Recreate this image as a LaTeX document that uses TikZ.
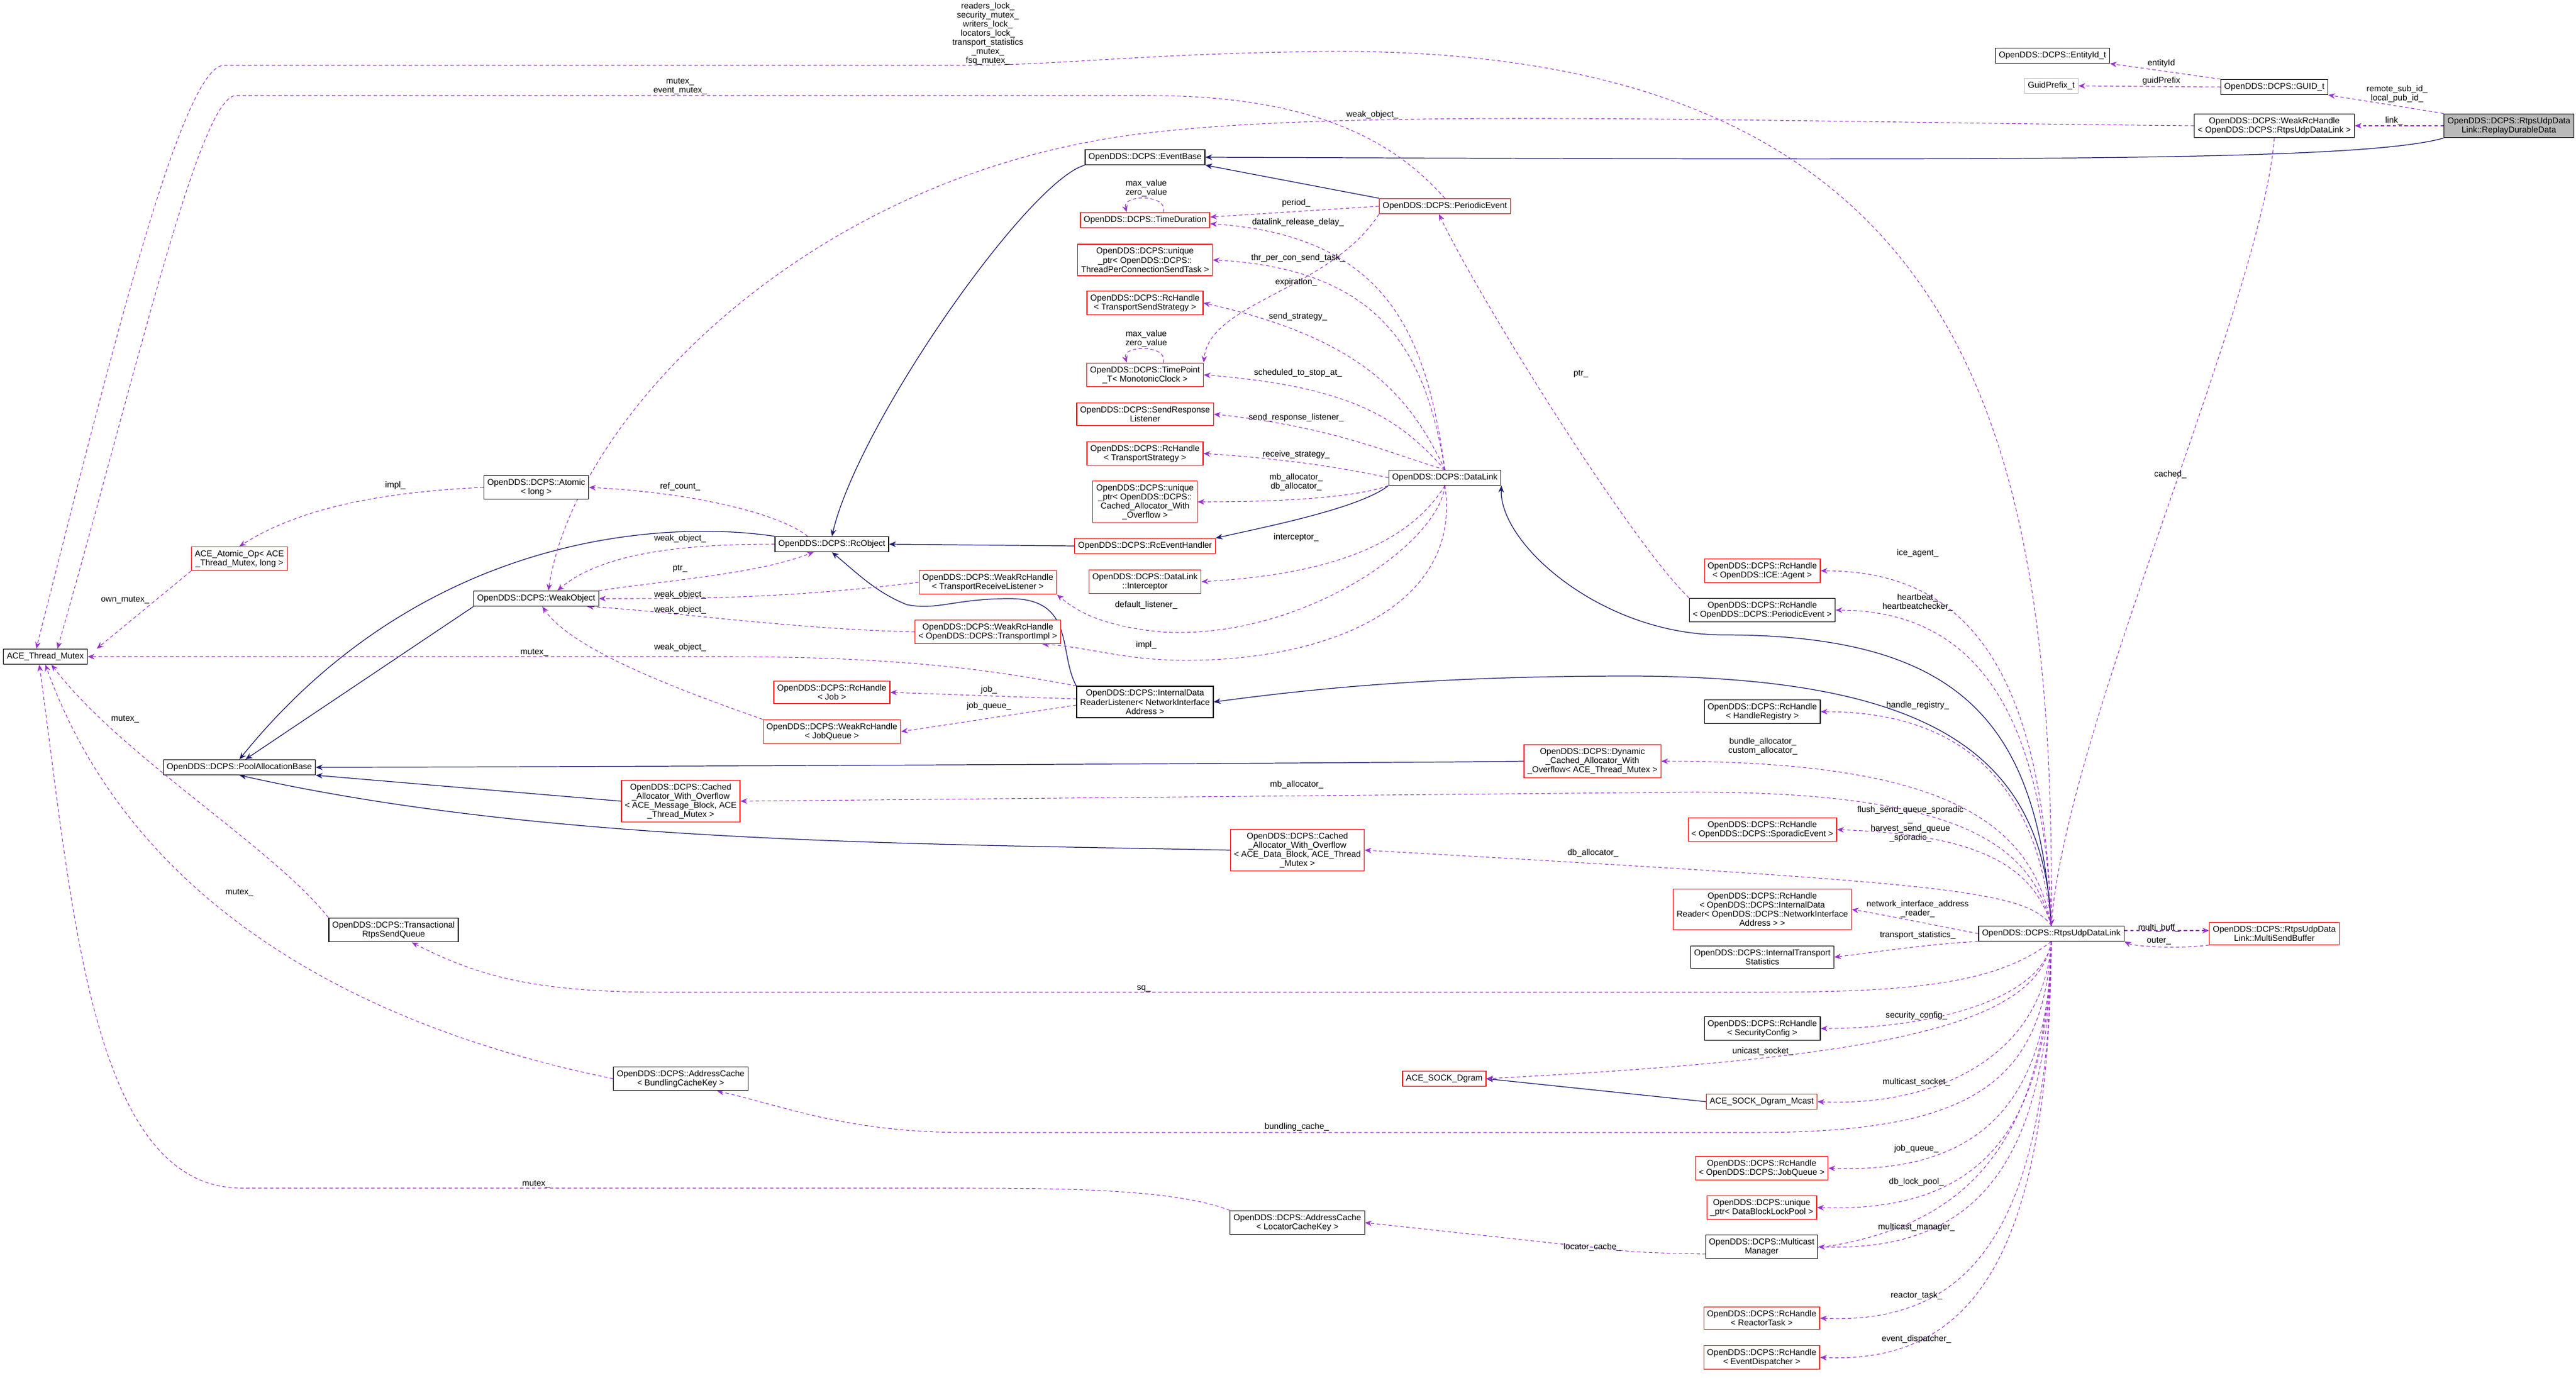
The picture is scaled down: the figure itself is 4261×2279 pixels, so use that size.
\documentclass[tikz,border=0pt]{standalone}
\usepackage{fontspec}
\setmainfont{Liberation Sans}
\usetikzlibrary{arrows.meta}

\definecolor{edgeblue}{RGB}{25,25,112}
\definecolor{edgepurple}{RGB}{154,50,205}
\newcommand{\classfont}{\fontsize{4}{4.3}\selectfont}
\pgfdeclarelayer{background}
\pgfsetlayers{background,main}

\tikzset{
  cls/.style={draw=black, fill=white, font=\classfont, align=center, inner sep=1.6pt, minimum height=0.25cm, line width=0.35pt},
  trunc/.style={cls, draw=red},
  ext/.style={cls, draw=gray!50},
  cur/.style={cls, fill=gray!55},
  member/.style={draw=edgepurple, dash pattern=on 1.6pt off 1.2pt, line width=0.3pt, -{Stealth[length=3.2pt,width=2.6pt]}},
  inherit/.style={draw=edgeblue, line width=0.35pt, -{Stealth[length=3.2pt,width=2.6pt]}},
  lbl/.style={font=\classfont, align=center, inner sep=0pt}
}

\begin{document}
\begin{tikzpicture}[x=0.01cm, y=-0.01cm]
	
	% 画布范围
	\useasboundingbox (0,0) rectangle (4261,2279);
	
	% 右上角的类
	\node[cur] (replay) at (4150,208) {OpenDDS::DCPS::RtpsUdpData\\Link::ReplayDurableData};
	\node[cls] (guid) at (3762,144) {OpenDDS::DCPS::GUID\_t};
	\node[cls] (entity) at (3395,92) {OpenDDS::DCPS::EntityId\_t};
	\node[ext] (gprefix) at (3393,142) {GuidPrefix\_t};
	\node[cls] (weakrudl) at (3762,208) {OpenDDS::DCPS::WeakRcHandle\\< OpenDDS::DCPS::RtpsUdpDataLink >};
	
	% 中间一列
	\node[cls] (eventbase) at (1894,260) {OpenDDS::DCPS::EventBase};
	\node[trunc] (timedur) at (1894,364) {OpenDDS::DCPS::TimeDuration};
	\node[trunc] (tpcst) at (1894,430) {OpenDDS::DCPS::unique\\\_ptr< OpenDDS::DCPS::\\ThreadPerConnectionSendTask >};
	\node[trunc] (sendstrat) at (1894,501) {OpenDDS::DCPS::RcHandle\\< TransportSendStrategy >};
	\node[trunc] (timepoint) at (1894,620) {OpenDDS::DCPS::TimePoint\\\_T< MonotonicClock >};
	\node[trunc] (sendresp) at (1894,685) {OpenDDS::DCPS::SendResponse\\Listener};
	\node[trunc] (tstrat) at (1894,750) {OpenDDS::DCPS::RcHandle\\< TransportStrategy >};
	\node[trunc] (cachedptr) at (1894,830) {OpenDDS::DCPS::unique\\\_ptr< OpenDDS::DCPS::\\Cached\_Allocator\_With\\\_Overflow >};
	\node[trunc] (rceh) at (1894,903) {OpenDDS::DCPS::RcEventHandler};
	\node[trunc] (interceptor) at (1894,962) {OpenDDS::DCPS::DataLink\\::Interceptor};
	\node[cls] (idrl) at (1894,1161) {OpenDDS::DCPS::InternalData\\ReaderListener< NetworkInterface\\Address >};
	\node[trunc] (periodic) at (2390,341) {OpenDDS::DCPS::PeriodicEvent};
	\node[cls] (datalink) at (2390,790) {OpenDDS::DCPS::DataLink};
	\node[trunc] (recvlist) at (1634,963) {OpenDDS::DCPS::WeakRcHandle\\< TransportReceiveListener >};
	\node[trunc] (timpl) at (1634,1045) {OpenDDS::DCPS::WeakRcHandle\\< OpenDDS::DCPS::TransportImpl >};
	
	% 左边
	\node[cls] (atomic) at (887,806) {OpenDDS::DCPS::Atomic\\< long >};
	\node[trunc] (atomicop) at (396,924) {ACE\_Atomic\_Op< ACE\\\_Thread\_Mutex, long >};
	\node[cls] (rcobject) at (1376,900) {OpenDDS::DCPS::RcObject};
	\node[cls] (weakobj) at (887,990) {OpenDDS::DCPS::WeakObject};
	\node[cls] (mutex) at (75,1086) {ACE\_Thread\_Mutex};
	\node[trunc] (job) at (1376,1145) {OpenDDS::DCPS::RcHandle\\< Job >};
	\node[trunc] (jobq) at (1376,1210) {OpenDDS::DCPS::WeakRcHandle\\< JobQueue >};
	\node[cls] (pool) at (396,1269) {OpenDDS::DCPS::PoolAllocationBase};
	\node[trunc] (cawomb) at (1126,1325) {OpenDDS::DCPS::Cached\\\_Allocator\_With\_Overflow\\< ACE\_Message\_Block, ACE\\\_Thread\_Mutex >};
	\node[trunc] (dyn) at (2634,1259) {OpenDDS::DCPS::Dynamic\\\_Cached\_Allocator\_With\\\_Overflow< ACE\_Thread\_Mutex >};
	\node[trunc] (cawodb) at (2146,1406) {OpenDDS::DCPS::Cached\\\_Allocator\_With\_Overflow\\< ACE\_Data\_Block, ACE\_Thread\\\_Mutex >};
	\node[cls] (txq) at (651,1538) {OpenDDS::DCPS::Transactional\\RtpsSendQueue};
	\node[cls] (bcache) at (1126,1784) {OpenDDS::DCPS::AddressCache\\< BundlingCacheKey >};
	\node[cls] (lcache) at (2146,2022) {OpenDDS::DCPS::AddressCache\\< LocatorCacheKey >};
	
	% 右边一列
	\node[trunc] (ice) at (2915,944) {OpenDDS::DCPS::RcHandle\\< OpenDDS::ICE::Agent >};
	\node[cls] (hperiodic) at (2915,1009) {OpenDDS::DCPS::RcHandle\\< OpenDDS::DCPS::PeriodicEvent >};
	\node[cls] (hreg) at (2915,1177) {OpenDDS::DCPS::RcHandle\\< HandleRegistry >};
	\node[trunc] (hspor) at (2915,1372) {OpenDDS::DCPS::RcHandle\\< OpenDDS::DCPS::SporadicEvent >};
	\node[trunc] (hidr) at (2915,1504) {OpenDDS::DCPS::RcHandle\\< OpenDDS::DCPS::InternalData\\Reader< OpenDDS::DCPS::NetworkInterface\\Address > >};
	\node[cls] (its) at (2915,1583) {OpenDDS::DCPS::InternalTransport\\Statistics};
	\node[cls] (rudl) at (3393,1544) {OpenDDS::DCPS::RtpsUdpDataLink};
	\node[trunc] (msb) at (3762,1544) {OpenDDS::DCPS::RtpsUdpData\\Link::MultiSendBuffer};
	\node[cls] (secconf) at (2915,1701) {OpenDDS::DCPS::RcHandle\\< SecurityConfig >};
	\node[trunc] (dgram) at (2389,1784) {ACE\_SOCK\_Dgram};
	\node[trunc] (mcast) at (2914,1822) {ACE\_SOCK\_Dgram\_Mcast};
	\node[trunc] (hjobq) at (2914,1932) {OpenDDS::DCPS::RcHandle\\< OpenDDS::DCPS::JobQueue >};
	\node[trunc] (lockpool) at (2914,1997) {OpenDDS::DCPS::unique\\\_ptr< DataBlockLockPool >};
	\node[cls] (mcmgr) at (2914,2062) {OpenDDS::DCPS::Multicast\\Manager};
	\node[trunc] (reactor) at (2914,2180) {OpenDDS::DCPS::RcHandle\\< ReactorTask >};
	\node[trunc] (dispatcher) at (2914,2245) {OpenDDS::DCPS::RcHandle\\< EventDispatcher >};
	
	\begin{pgfonlayer}{background}
	% 继承关系
	\draw[inherit] (replay.south west) .. controls (3900,268) and (3300,265) .. (eventbase.east);
	\draw[inherit] (periodic.north west) -- (eventbase.south east);
	\draw[inherit] (eventbase.south west) .. controls (1700,300) and (1420,700) .. (rcobject.north);
	\draw[inherit] (rceh.west) -- (rcobject.east);
	\draw[inherit] (datalink.south west) .. controls (2250,840) and (2100,870) .. (rceh.north east);
	\draw[inherit] (rudl.north) .. controls (3370,1200) and (3250,1050) .. (2850,1050) .. controls (2650,1050) and (2480,900) .. (datalink.south east);
	\draw[inherit] (rudl.north) .. controls (3380,1250) and (3200,1120) .. (2700,1118) .. controls (2400,1118) and (2200,1135) .. (idrl.east);
	\draw[inherit] (idrl.north west) .. controls (1750,1080) and (1780,990) .. (1670,990) .. controls (1580,990) and (1550,1010) .. (1500,1000) .. controls (1450,980) and (1420,950) .. (rcobject.south);
	\draw[inherit] (rcobject.north west) .. controls (1100,860) and (700,880) .. (pool.north);
	\draw[inherit] (weakobj.south west) -- ([xshift=0.1cm]pool.north);
	\draw[inherit] (dyn.west) .. controls (2300,1262) and (800,1269) .. (pool.east);
	\draw[inherit] (cawomb.west) -- (pool.south east);
	\draw[inherit] (cawodb.west) .. controls (1500,1395) and (900,1395) .. (pool.south);
	\draw[inherit] (mcast.west) -- (dgram.east);
	
	% 右上角的成员
	\draw[member] (replay.west) -- (weakrudl.east);
	\draw[member] (replay.north west) -- (guid.south east);
	\draw[member] (guid.north west) -- (entity.south east);
	\draw[member] (guid.west) -- (gprefix.east);
	\draw[member] (weakrudl.south) .. controls (3740,500) and (3420,1200) .. (rudl.north);
	\draw[member] (weakrudl.west) .. controls (2800,200) and (2100,175) .. (1800,235) .. controls (1300,330) and (950,700) .. ([xshift=0.2cm]weakobj.north);
	
	% 互斥量
	\draw[member] (rudl.north) .. controls (3400,700) and (3250,80) .. (2200,85) .. controls (1900,88) and (1750,108) .. (1600,108) -- (370,108) .. controls (300,110) and (180,600) .. ([xshift=-0.15cm]mutex.north);
	\draw[member] (periodic.north) .. controls (2320,250) and (2200,158) .. (1900,158) -- (390,158) .. controls (330,160) and (230,600) .. ([xshift=0.2cm]mutex.north);
	
	% PeriodicEvent 与 DataLink 的成员
	\draw[member] (periodic.west) -- ([yshift=0.05cm]timedur.east);
	\draw[member] ([xshift=0.3cm]timedur.north) .. controls +(10,-30) and +(-10,-30) .. ([xshift=-0.3cm]timedur.north);
	\draw[member] (periodic.south west) .. controls (2200,480) and (2000,500) .. (timepoint.north east);
	\draw[member] ([xshift=0.3cm]timepoint.north) .. controls +(10,-30) and +(-10,-30) .. ([xshift=-0.3cm]timepoint.north);
	\draw[member] (datalink.north) .. controls (2360,560) and (2300,390) .. ([yshift=-0.06cm]timedur.east);
	\draw[member] (datalink.north) .. controls (2360,600) and (2300,445) .. (tpcst.east);
	\draw[member] (datalink.north) .. controls (2330,650) and (2250,560) .. (sendstrat.east);
	\draw[member] (datalink.north) .. controls (2320,700) and (2250,640) .. (timepoint.east);
	\draw[member] (datalink.north) .. controls (2300,750) and (2200,705) .. (sendresp.east);
	\draw[member] (datalink.west) .. controls (2250,780) and (2150,760) .. (tstrat.east);
	\draw[member] (datalink.south west) .. controls (2250,820) and (2150,830) .. (cachedptr.east);
	\draw[member] (datalink.south) .. controls (2330,900) and (2200,950) .. (interceptor.east);
	\draw[member] (datalink.south) .. controls (2380,900) and (2150,1060) .. (1920,1045) .. controls (1820,1035) and (1780,1010) .. (recvlist.south east);
	\draw[member] (datalink.south) .. controls (2420,1000) and (2200,1095) .. (1950,1092) .. controls (1850,1090) and (1800,1070) .. ([xshift=0.9cm]timpl.south);
	\draw[member] (hperiodic.north west) .. controls (2700,900) and (2450,500) .. ([xshift=-0.1cm]periodic.south);
	
	% RcObject 与 WeakObject
	\draw[member] (atomic.west) .. controls (600,815) and (480,850) .. (atomicop.north);
	\draw[member] (atomicop.south west) -- ([xshift=0.15cm]mutex.north east);
	\draw[member] ([xshift=-0.4cm]rcobject.north) .. controls (1290,850) and (1150,815) .. (atomic.east);
	\draw[member] (rcobject.west) .. controls (1150,900) and (1000,910) .. ([xshift=0.35cm]weakobj.north);
	\draw[member] (weakobj.north east) .. controls (1100,960) and (1250,950) .. ([xshift=-0.3cm]rcobject.south);
	\draw[member] (recvlist.west) .. controls (1300,990) and (1150,990) .. (weakobj.east);
	\draw[member] (timpl.west) .. controls (1300,1040) and (1100,1010) .. ([xshift=-0.2cm]weakobj.south east);
	\draw[member] (jobq.north west) .. controls (1150,1150) and (950,1080) .. ([xshift=0.1cm]weakobj.south);
	\draw[member] (idrl.north west) .. controls (1650,1110) and (1500,1086) .. (1200,1086) -- (mutex.east);
	\draw[member] ([yshift=0.05cm]idrl.west) -- (job.east);
	\draw[member] ([yshift=-0.05cm]idrl.west) -- (jobq.east);
	
	% 左下方的互斥量
	\draw[member] (txq.north west) .. controls (450,1400) and (200,1250) .. ([xshift=0.1cm]mutex.south);
	\draw[member] (bcache.west) .. controls (600,1700) and (220,1500) .. (mutex.south);
	\draw[member] (lcache.north west) .. controls (1950,1970) and (1800,1965) .. (1600,1965) -- (400,1965) .. controls (150,1965) and (120,1500) .. ([xshift=-0.1cm]mutex.south);
	
	% RtpsUdpDataLink 的成员
	\draw[member] (rudl.north) .. controls (3380,1100) and (3250,944) .. (ice.east);
	\draw[member] (rudl.north) .. controls (3380,1150) and (3250,1010) .. (hperiodic.east);
	\draw[member] (rudl.north) .. controls (3370,1300) and (3250,1177) .. (hreg.east);
	\draw[member] (rudl.north) .. controls (3360,1350) and (3200,1259) .. (dyn.east);
	\draw[member] (rudl.north) .. controls (3360,1400) and (3250,1310) .. (2800,1310) -- (cawomb.east);
	\draw[member] (rudl.north) .. controls (3360,1420) and (3250,1380) .. (hspor.east);
	\draw[member] (rudl.north) .. controls (3350,1470) and (3200,1460) .. (cawodb.east);
	\draw[member] (rudl.west) .. controls (3200,1530) and (3100,1510) .. (hidr.east);
	\draw[member] (rudl.south west) .. controls (3200,1560) and (3100,1575) .. (its.east);
	\draw[member] (rudl.south) .. controls (3300,1630) and (3150,1641) .. (2900,1641) -- (1100,1641) .. controls (900,1641) and (800,1620) .. ([xshift=0.3cm]txq.south);
	\draw[member] (rudl.south) .. controls (3380,1650) and (3200,1701) .. (secconf.east);
	\draw[member] (rudl.south) .. controls (3370,1700) and (3100,1750) .. (dgram.east);
	\draw[member] (rudl.south) .. controls (3380,1750) and (3200,1830) .. (mcast.east);
	\draw[member] (rudl.south) .. controls (3380,1800) and (3250,1873) .. (2900,1873) -- (1600,1873) .. controls (1400,1873) and (1300,1830) .. ([xshift=0.6cm]bcache.south);
	\draw[member] (rudl.south) .. controls (3390,1850) and (3250,1940) .. (hjobq.east);
	\draw[member] (rudl.south) .. controls (3390,1900) and (3250,2005) .. (lockpool.east);
	\draw[member] (rudl.south) .. controls (3390,1950) and (3250,2070) .. (mcmgr.east);
	\draw[member] (rudl.south) .. controls (3380,2050) and (3100,2090) .. (2700,2070) -- (lcache.east);
	\draw[member] (rudl.south) .. controls (3390,2050) and (3250,2190) .. (reactor.east);
	\draw[member] (rudl.south) .. controls (3390,2100) and (3250,2255) .. (dispatcher.east);
	\draw[member] ([yshift=0.05cm]rudl.east) -- ([yshift=0.05cm]msb.west);
	\draw[member] (msb.south west) .. controls (3600,1570) and (3530,1565) .. (rudl.south east);
	\end{pgfonlayer}
	
	% 连线标注
	\node[lbl] (l_link) at (3960,200) {link\_};
	\node[lbl] (l_guid) at (3965,155) {remote\_sub\_id\_\\local\_pub\_id\_};
	\node[lbl] (l_entity) at (3575,105) {entityId};
	\node[lbl] (l_gprefix) at (3575,134) {guidPrefix};
	\node[lbl] (l_cached) at (3590,785) {cached\_};
	\node[lbl] (l_wo0) at (2270,190) {weak\_object\_};
	\node[lbl] (l_locks) at (1634,56) {readers\_lock\_\\security\_mutex\_\\writers\_lock\_\\locators\_lock\_\\transport\_statistics\\\_mutex\_\\fsq\_mutex\_};
	\node[lbl] (l_emutex) at (1125,143) {mutex\_\\event\_mutex\_};
	\node[lbl] (l_period) at (2144,336) {period\_};
	\node[lbl] (l_tdloop) at (1896,311) {max\_value\\zero\_value};
	\node[lbl] (l_expir) at (2144,467) {expiration\_};
	\node[lbl] (l_tploop) at (1896,560) {max\_value\\zero\_value};
	\node[lbl] (l_drd) at (2147,368) {datalink\_release\_delay\_};
	\node[lbl] (l_tpc) at (2147,427) {thr\_per\_con\_send\_task\_};
	\node[lbl] (l_ss) at (2147,524) {send\_strategy\_};
	\node[lbl] (l_sts) at (2147,617) {scheduled\_to\_stop\_at\_};
	\node[lbl] (l_srl) at (2144,691) {send\_response\_listener\_};
	\node[lbl] (l_rs) at (2144,752) {receive\_strategy\_};
	\node[lbl] (l_alloc) at (2144,797) {mb\_allocator\_\\db\_allocator\_};
	\node[lbl] (l_icp) at (2144,889) {interceptor\_};
	\node[lbl] (l_dl) at (1896,1001) {default\_listener\_};
	\node[lbl] (l_impl) at (1896,1067) {impl\_};
	\node[lbl] (l_ptr2) at (2615,618) {ptr\_};
	\node[lbl] (l_impl2) at (654,803) {impl\_};
	\node[lbl] (l_own) at (207,992) {own\_mutex\_};
	\node[lbl] (l_ref) at (1125,805) {ref\_count\_};
	\node[lbl] (l_wo1) at (1125,891) {weak\_object\_};
	\node[lbl] (l_ptr1) at (1125,940) {ptr\_};
	\node[lbl] (l_wo2) at (1125,984) {weak\_object\_};
	\node[lbl] (l_wo3) at (1125,1009) {weak\_object\_};
	\node[lbl] (l_wo4) at (1125,1071) {weak\_object\_};
	\node[lbl] (l_mtx1) at (884,1079) {mutex\_};
	\node[lbl] (l_job) at (1636,1141) {job\_};
	\node[lbl] (l_jobq) at (1636,1168) {job\_queue\_};
	\node[lbl] (l_mtx2) at (207,1189) {mutex\_};
	\node[lbl] (l_mtx3) at (396,1476) {mutex\_};
	\node[lbl] (l_mtx4) at (887,1958) {mutex\_};
	\node[lbl] (l_ice) at (3172,915) {ice\_agent\_};
	\node[lbl] (l_hb) at (3172,996) {heartbeat\_\\heartbeatchecker\_};
	\node[lbl] (l_hreg) at (3172,1167) {handle\_registry\_};
	\node[lbl] (l_dyn) at (2916,1234) {bundle\_allocator\_\\custom\_allocator\_};
	\node[lbl] (l_mb) at (2145,1298) {mb\_allocator\_};
	\node[lbl] (l_spor) at (3160,1363) {flush\_send\_queue\_sporadic\\\_\\harvest\_send\_queue\\\_sporadic\_};
	\node[lbl] (l_db) at (2635,1411) {db\_allocator\_};
	\node[lbl] (l_nia) at (3172,1503) {network\_interface\_address\\\_reader\_};
	\node[lbl] (l_its) at (3172,1547) {transport\_statistics\_};
	\node[lbl] (l_sq) at (1892,1635) {sq\_};
	\node[lbl] (l_sec) at (3170,1680) {security\_config\_};
	\node[lbl] (l_uni) at (2916,1739) {unicast\_socket\_};
	\node[lbl] (l_mcs) at (3170,1790) {multicast\_socket\_};
	\node[lbl] (l_bc) at (2145,1864) {bundling\_cache\_};
	\node[lbl] (l_hjq) at (3170,1900) {job\_queue\_};
	\node[lbl] (l_lp) at (3170,1955) {db\_lock\_pool\_};
	\node[lbl] (l_mm) at (3170,2030) {multicast\_manager\_};
	\node[lbl] (l_lc) at (2634,2063) {locator\_cache\_};
	\node[lbl] (l_rt) at (3170,2143) {reactor\_task\_};
	\node[lbl] (l_ed) at (3170,2215) {event\_dispatcher\_};
	\node[lbl] (l_mbuf) at (3571,1535) {multi\_buff\_};
	\node[lbl] (l_outer) at (3571,1556) {outer\_};
	
\end{tikzpicture}
\end{document}
